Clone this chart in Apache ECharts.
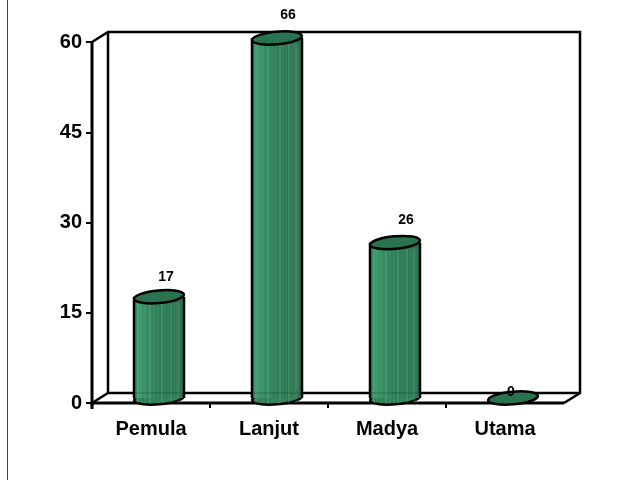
<!DOCTYPE html>
<html><head><meta charset="utf-8">
<style>html,body{margin:0;padding:0;background:#fff}#c{width:621px;height:480px}</style>
<script src="https://cdn.jsdelivr.net/npm/echarts@6/dist/echarts.min.js"></script>
</head><body><div id="c"></div>
<script>
const categories = ['Pemula','Lanjut','Madya','Utama'];
const values = [17,66,26,0];
const yMin = 0, yMax = 60, yStep = 15;

const DX = 16, DY = -10;
const RX = 25, RY = 6.3, TILT = 0.09;
const stripes = [4,7,11,16,20,24,28,31,34,37,40,42,44,46];
const labelNudge = [[7,-20],[11,-23],[11,-22],[-2,-6]];
const chart = echarts.init(document.getElementById('c'), null, {renderer:'canvas'});
const FONT = '"Liberation Sans", Arial, sans-serif';

function wall(params, api){
  const cs = params.coordSys;
  const x0 = cs.x, x1 = cs.x + cs.width, y0 = cs.y, y1 = cs.y + cs.height;
  const s = {stroke:'#000', lineWidth:2.5, fill:null};
  const kids = [
    {type:'polyline', shape:{points:[[x0,y0],[x0+DX,y0+DY],[x1+DX,y0+DY],[x1+DX,y1+DY],[x1,y1]]}, style:s},
    {type:'polyline', shape:{points:[[x0+DX,y0+DY],[x0+DX,y1+DY]]}, style:s},
    {type:'polyline', shape:{points:[[x0,y1],[x0+DX,y1+DY],[x1+DX,y1+DY]]}, style:s},
    {type:'polyline', shape:{points:[[x0,y0],[x0,y1+3],[x0,y1],[x1,y1]]}, style:{stroke:'#000', lineWidth:3, fill:null}}
  ];
  const band = cs.width / categories.length;
  for (let i = 1; i < categories.length; i++) {
    kids.push({type:'line', shape:{x1:x0+i*band, y1:y1, x2:x0+i*band, y2:y1+5}, style:{stroke:'#000', lineWidth:2}});
  }
  kids.push({type:'line', shape:{x1:x0, y1:y1, x2:x0, y2:y1+6}, style:{stroke:'#000', lineWidth:3}});
  return {type:'group', children:kids};
}

function cylinder(params, api){
  const idx = api.value(0), v = api.value(1);
  const shown = Math.min(v, yMax);
  const base = api.coord([idx, 0]);
  const top = api.coord([idx, shown]);
  const cx = base[0] + DX/2, by = base[1] - 5, ty = top[1] - 4;
  const kids = [];
  const ell = (y, fill) => ({type:'ellipse', x:cx, y:y, rotation:TILT,
      shape:{cx:0, cy:0, rx:RX, ry:RY},
      style:{fill:fill, stroke:'#000', lineWidth:2.5}});
  if (v > 0) {
    const h = by - ty;
    const grad = {type:'linear', x:0, y:0, x2:1, y2:0, colorStops:[
      {offset:0,color:'#2f8a5f'},{offset:.12,color:'#3a986b'},{offset:.45,color:'#2e8058'},{offset:1,color:'#2a7050'}]};
    kids.push(ell(by, '#2e8058'));
    kids.push({type:'rect', shape:{x:cx-RX, y:ty, width:RX*2, height:h}, style:{fill:grad}});
    stripes.forEach((o,i)=>{
      kids.push({type:'line', shape:{x1:cx-RX+o, y1:ty+6, x2:cx-RX+o, y2:by+5},
        style:{stroke: 'rgba(190,230,205,'+(i%3==0?0.3:0.12)+')', lineWidth:1}});
    });
    kids.push({type:'line', shape:{x1:cx-RX, y1:ty, x2:cx-RX, y2:by}, style:{stroke:'#000', lineWidth:2.5}});
    kids.push({type:'line', shape:{x1:cx+RX, y1:ty, x2:cx+RX, y2:by}, style:{stroke:'#000', lineWidth:2.5}});
    const cs = params.coordSys;
    kids.push({type:'line', shape:{x1:cx-RX, y1:cs.y+cs.height+DY, x2:cx+RX, y2:cs.y+cs.height+DY},
      style:{stroke:'rgba(0,0,0,.12)', lineWidth:2}});
  }
  kids.push(ell(v > 0 ? ty : by, '#2a7350'));
  const n = labelNudge[idx];
  kids.push({type:'text', x: cx + n[0], y: (v > 0 ? ty : by) + n[1],
    style:{text:String(v), font:'bold 14px '+FONT, fill:'#000', align:'center', verticalAlign:'middle'}});
  return {type:'group', children:kids};
}

chart.setOption({
  animation:false,
  backgroundColor:'#fff',
  grid:{left:92, right:57, top:42, bottom:77},
  graphic:[
    {type:'line', silent:true, shape:{x1:7.5,y1:0,x2:7.5,y2:480}, style:{stroke:'#444', lineWidth:1}}
  ],
  xAxis:{type:'category', data:categories,
    axisLine:{show:false},
    axisTick:{show:false},
    axisLabel:{color:'#000', fontFamily:FONT, fontWeight:'bold', fontSize:20, margin:16},
    splitLine:{show:false}},
  yAxis:{type:'value', min:yMin, max:yMax, interval:yStep,
    axisLine:{show:false},
    axisTick:{show:true, length:6, lineStyle:{color:'#000', width:2}},
    axisLabel:{color:'#000', fontFamily:FONT, fontWeight:'bold', fontSize:20, margin:10},
    splitLine:{show:false}},
  series:[
    {type:'custom', silent:true, renderItem:wall, data:[[0,0]], clip:false, z:1},
    {type:'custom', silent:true, renderItem:cylinder, clip:false, z:2,
     encode:{x:0,y:1}, data:values.map((v,i)=>[i,v])}
  ]
});
</script></body></html>
